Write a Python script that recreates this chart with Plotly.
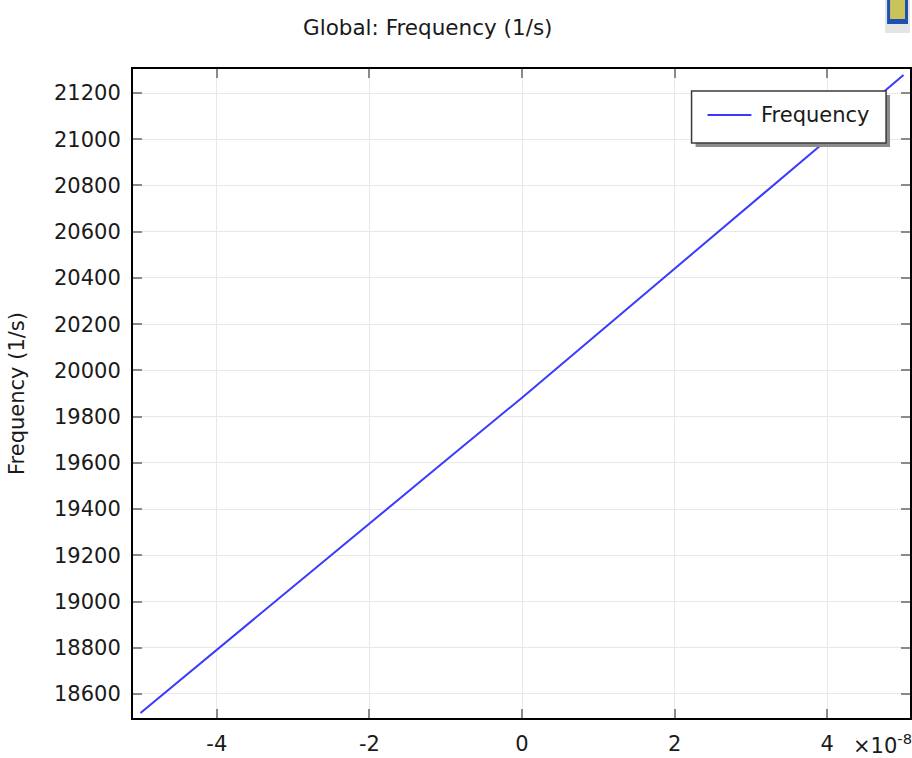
import plotly.graph_objects as go

# Parameter (x) values, shown on the axis in units of 1e-8
x_vals = [-5e-8, -4e-8, -3e-8, -2e-8, -1e-8, 0.0, 1e-8, 2e-8, 3e-8, 4e-8, 5e-8]
freq = [18518, 18792, 19066, 19340, 19610, 19882, 20160, 20440, 20718, 20998, 21278]

x_tickvals = [-4e-8, -2e-8, 0.0, 2e-8, 4e-8]
x_ticktext = ["-4", "-2", "0", "2", "4"]
y_tickvals = [18600, 18800, 19000, 19200, 19400, 19600, 19800, 20000,
              20200, 20400, 20600, 20800, 21000, 21200]
y_ticktext = [str(v) for v in y_tickvals]

series_name = "Frequency"
LINE_COLOR = "#3a3aff"
FONT = "DejaVu Sans"
TXT = "#1a1a1a"

# plot-area geometry (pixels)
L, T, W, H = 133, 69, 779, 649


def px(xp):
    return (xp - L) / W


def py(yp):
    return (T + H - yp) / H


fig = go.Figure()
fig.add_trace(go.Scatter(
    x=x_vals, y=freq, mode="lines", name=series_name,
    line=dict(color=LINE_COLOR, width=2), showlegend=False,
))

axis_common = dict(
    showgrid=True, gridcolor="#e8e8e8", gridwidth=1,
    showline=True, linecolor="#000000", linewidth=2,
    ticks="inside", ticklen=9, tickwidth=2, tickcolor="#8a8a8a",
    mirror="ticks", zeroline=False,
    tickfont=dict(family=FONT, size=21, color=TXT),
)

fig.update_xaxes(range=[-5.098e-8, 5.085e-8], tickvals=x_tickvals,
                 ticktext=x_ticktext, ticklabelstandoff=6, **axis_common)
fig.update_yaxes(range=[18496, 21304], tickvals=y_tickvals,
                 ticktext=y_ticktext, ticklabelstandoff=6,
                 title=dict(text="Frequency (1/s)", standoff=24,
                            font=dict(family=FONT, size=21, color=TXT)),
                 **axis_common)

shapes = [
    # legend shadow
    dict(type="rect", xref="paper", yref="paper",
         x0=px(697), x1=px(892), y0=py(147), y1=py(95),
         fillcolor="#8c8c8c", line=dict(width=0), layer="above"),
    # legend box
    dict(type="rect", xref="paper", yref="paper",
         x0=px(693), x1=px(888), y0=py(143), y1=py(91),
         fillcolor="white", line=dict(color="#3a3a3a", width=1.5), layer="above"),
    # legend line sample
    dict(type="line", xref="paper", yref="paper",
         x0=px(709), x1=px(753), y0=py(115), y1=py(115),
         line=dict(color=LINE_COLOR, width=2), layer="above"),
]

# small application icon at the top right corner
icon = [
    dict(type="rect", xref="paper", yref="paper",
         x0=px(887), x1=px(912), y0=py(33), y1=py(0),
         fillcolor="#e4e4e4", line=dict(width=0), layer="above"),
    dict(type="rect", xref="paper", yref="paper",
         x0=px(889), x1=px(910), y0=py(24), y1=py(0),
         fillcolor="#1d4fb5", line=dict(width=0), layer="above"),
    dict(type="rect", xref="paper", yref="paper",
         x0=px(892), x1=px(907), y0=py(19), y1=py(0),
         fillcolor="#c9c35a", line=dict(width=0), layer="above"),
]

fig.update_layout(
    width=912, height=758,
    margin=dict(l=L, r=912 - L - W, t=T, b=758 - T - H),
    paper_bgcolor="white", plot_bgcolor="white",
    showlegend=False,
    shapes=shapes + icon,
    annotations=[
        dict(text="Global: Frequency (1/s)", xref="paper", yref="paper",
             x=px(428), y=py(27),
             xanchor="center", yanchor="middle", showarrow=False,
             font=dict(family=FONT, size=21.5, color=TXT)),
        dict(text=series_name, xref="paper", yref="paper",
             x=px(761), y=py(115),
             xanchor="left", yanchor="middle", showarrow=False,
             font=dict(family=FONT, size=21, color=TXT)),
        dict(text="×10<sup>-8</sup>", xref="paper", yref="paper",
             x=px(853), y=py(744),
             xanchor="left", yanchor="middle", showarrow=False,
             font=dict(family=FONT, size=21, color=TXT)),
    ],
)

fig.write_html("out.html")
